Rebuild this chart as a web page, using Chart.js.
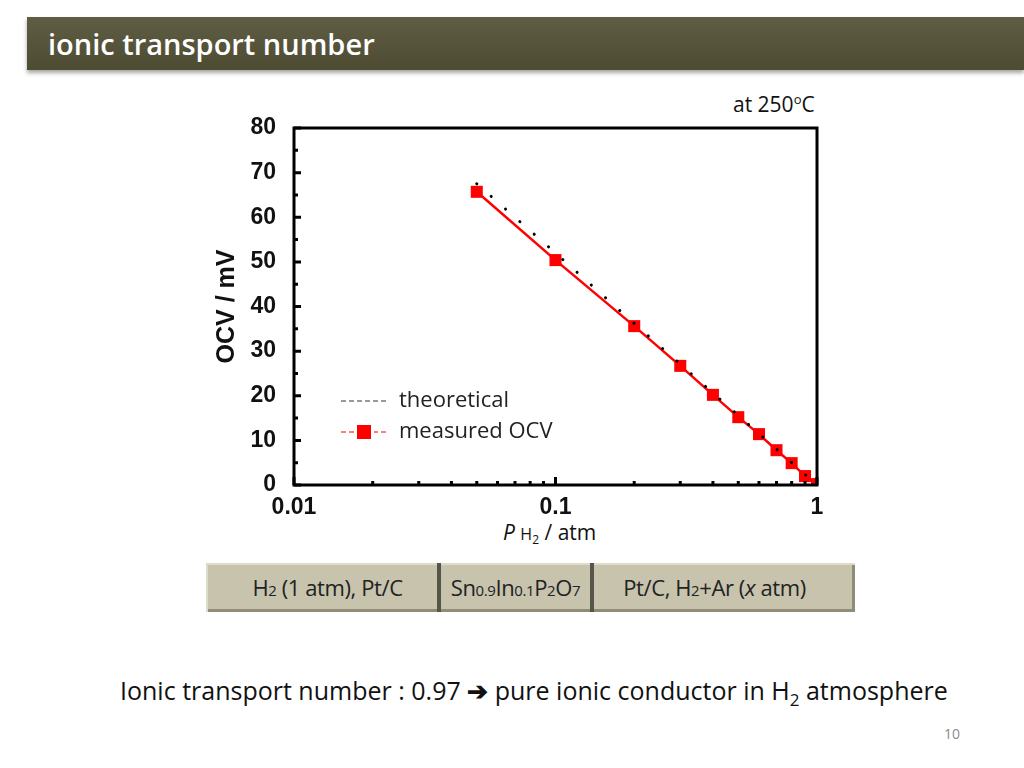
<!DOCTYPE html>
<html>
<head>
<meta charset="utf-8">
<script src="https://cdn.jsdelivr.net/npm/chart.js@4"></script>
<style>
  html, body { margin: 0; padding: 0; background: #fff; }
  body { width: 1024px; height: 768px; position: relative; overflow: hidden; font-family: "Open Sans", Lato, sans-serif; }
  #header {
    position: absolute; left: 27px; top: 17px; width: 997px; height: 53px;
    background: linear-gradient(#5f5e44, #4d4c33);
    box-shadow: 0 3px 4px rgba(0,0,0,0.35);
    color: #fff; font-weight: 600; font-size: 29px; line-height: 53px;
    padding-left: 21px; box-sizing: border-box;
  }
  #chartWrap { position: absolute; left: 0; top: 0; width: 1024px; height: 768px; }
  .txt { position: absolute; color: #111; white-space: nowrap; }
  #temp { left: 733px; top: 90px; font-size: 21px; }
  #xlab { left: 503px; top: 518px; font-size: 21px; }
  #cell { position: absolute; left: 206px; top: 563px; width: 649px; height: 49px; display: flex;
    background: #c7c3ad; box-shadow: inset 2px 2px 0 #dedbc8, inset -3px -3px 0 #8f8c78; }
  #cell div { box-sizing: border-box; height: 49px; line-height: 49px; font-size: 22px; color: #222; text-align: center; letter-spacing: -0.4px; }
  #cell .d { border-left: 4px solid #56554a; }
  #cell sub { font-size: 15px; vertical-align: baseline; }
  #note { left: 120px; top: 673px; font-size: 25px; }
  #note sub { font-size: 17px; }
  #page { left: 944px; top: 724px; font-size: 14px; color: #8a8a8a; }
</style>
</head>
<body>
<div id="header">ionic transport number</div>
<div class="txt" id="temp">at 250<sup style="font-size:13px">o</sup>C</div>
<div class="txt" id="xlab"><i>P</i> <span style="font-size:16px">H<sub style="font-size:12px">2</sub></span> / atm</div>
<div id="cell">
  <div style="width:231px;padding-left:12px">H<sub>2</sub> (1 atm), Pt/C</div>
  <div class="d" style="width:153px">Sn<sub>0.9</sub>In<sub>0.1</sub>P<sub>2</sub>O<sub>7</sub></div>
  <div class="d" style="width:265px;padding-right:20px">Pt/C, H<sub>2</sub>+Ar (<i>x</i> atm)</div>
</div>
<div class="txt" id="note">Ionic transport number : 0.97 <b>&#x2794;</b> pure ionic conductor in H<sub>2</sub> atmosphere</div>
<div class="txt" id="page">10</div>
<div id="chartWrap"><canvas id="ocvChart"></canvas></div>
<script>
const pressures = [0.05, 0.1, 0.2, 0.3, 0.4, 0.5, 0.6, 0.7, 0.8, 0.9, 1.0];
const measuredOCV = [65.7, 50.4, 35.6, 26.7, 20.2, 15.2, 11.4, 7.8, 4.9, 2.0, 0.2];
const theoryP = [0.05, 0.1, 0.2, 0.5, 1.0];
const theoreticalOCV = [67.5, 52.0, 36.2, 15.6, 0];
const xTickValues = [0.01, 0.1, 1];
const xMinorTicks = [0.02, 0.03, 0.04, 0.05, 0.06, 0.07, 0.08, 0.09, 0.2, 0.3, 0.4, 0.5, 0.6, 0.7, 0.8, 0.9];
const yTickValues = [0, 10, 20, 30, 40, 50, 60, 70, 80];
const yMinorTicks = [5, 15, 25, 35, 45, 55, 65, 75];

// box frame, inward ticks and the legend inside the plot
const framePlugin = {
  id: 'frame',
  afterDraw(chart) {
    const { ctx, chartArea: a, scales: { x, y } } = chart;
    ctx.save();
    ctx.strokeStyle = '#000';
    ctx.lineWidth = 3;
    ctx.beginPath();
    yTickValues.forEach(v => { const py = y.getPixelForValue(v); ctx.moveTo(a.left, py); ctx.lineTo(a.left + 7, py); });
    yMinorTicks.forEach(v => { const py = y.getPixelForValue(v); ctx.moveTo(a.left, py); ctx.lineTo(a.left + 4, py); });
    xTickValues.forEach(v => { const px = x.getPixelForValue(v); ctx.moveTo(px, a.bottom); ctx.lineTo(px, a.bottom - 8); });
    xMinorTicks.forEach(v => { const px = x.getPixelForValue(v); ctx.moveTo(px, a.bottom); ctx.lineTo(px, a.bottom - 4); });
    ctx.stroke();
    ctx.strokeRect(a.left, a.top, a.right - a.left, a.bottom - a.top);

    // legend
    const lx = a.left + 47, ly1 = a.top + 273, ly2 = a.top + 304;
    const ds = chart.data.datasets;
    ctx.lineWidth = 1;
    ctx.strokeStyle = '#333';
    ctx.setLineDash([5, 3]);
    ctx.beginPath(); ctx.moveTo(lx, ly1); ctx.lineTo(lx + 46, ly1); ctx.stroke();
    ctx.strokeStyle = '#f00';
    ctx.beginPath(); ctx.moveTo(lx, ly2); ctx.lineTo(lx + 46, ly2); ctx.stroke();
    ctx.setLineDash([]);
    ctx.fillStyle = '#fff';
    ctx.fillRect(lx + 13, ly2 - 8, 20, 16);
    ctx.fillStyle = '#f00';
    ctx.fillRect(lx + 16, ly2 - 7, 14, 14);
    ctx.fillStyle = '#222';
    ctx.font = '22px "Open Sans", Lato, sans-serif';
    ctx.textBaseline = 'middle';
    ctx.fillText(ds[0].label, lx + 58, ly1);
    ctx.fillText(ds[1].label, lx + 58, ly2);
    ctx.restore();
  }
};

const ctx = document.getElementById('ocvChart').getContext('2d');

const ocvChart = new Chart(ctx, {
  type: 'line',
  data: {
    datasets: [{
      label: 'theoretical',
      data: theoryP.map((p, i) => ({ x: p, y: theoreticalOCV[i] })),
      borderColor: '#000',
      borderWidth: 3,
      borderCapStyle: 'round',
      borderDash: [0.1, 19],
      pointRadius: 0,
      fill: false
    }, {
      label: 'measured OCV',
      data: pressures.map((p, i) => ({ x: p, y: measuredOCV[i] })),
      borderColor: '#f00',
      backgroundColor: '#f00',
      borderWidth: 2.5,
      pointStyle: 'rect',
      pointRadius: 8.5,
      pointBorderWidth: 0,
      fill: false
    }]
  },
  options: {
    responsive: true,
    maintainAspectRatio: false,
    animation: false,
    layout: {
      padding: { left: 200, top: 128, right: 207, bottom: 223 }
    },
    plugins: {
      legend: { display: false },
      tooltip: { enabled: false }
    },
    scales: {
      x: {
        type: 'logarithmic',
        min: 0.01,
        max: 1,
        afterFit: s => { s.height = 60; },
        afterBuildTicks: s => { s.ticks = xTickValues.map(v => ({ value: v })); },
        grid: { display: false },
        border: { display: false },
        ticks: {
          color: '#111',
          padding: 1,
          maxRotation: 0,
          autoSkip: false,
          font: { family: '"Liberation Sans", Arial, sans-serif', size: 23, weight: 'bold' },
          callback: v => String(v)
        }
      },
      y: {
        min: 0,
        max: 80,
        afterFit: s => { s.width = 94; },
        afterBuildTicks: s => { s.ticks = yTickValues.map(v => ({ value: v })); },
        grid: { display: false },
        border: { display: false },
        title: {
          display: true,
          text: 'OCV / mV',
          color: '#111',
          padding: { top: 12, bottom: 0 },
          font: { family: '"Liberation Sans", Arial, sans-serif', size: 25, weight: 'bold' }
        },
        ticks: {
          color: '#111',
          padding: 10,
          font: { family: '"Liberation Sans", Arial, sans-serif', size: 23, weight: 'bold' }
        }
      }
    }
  },
  plugins: [framePlugin]
});
</script>
</body>
</html>
